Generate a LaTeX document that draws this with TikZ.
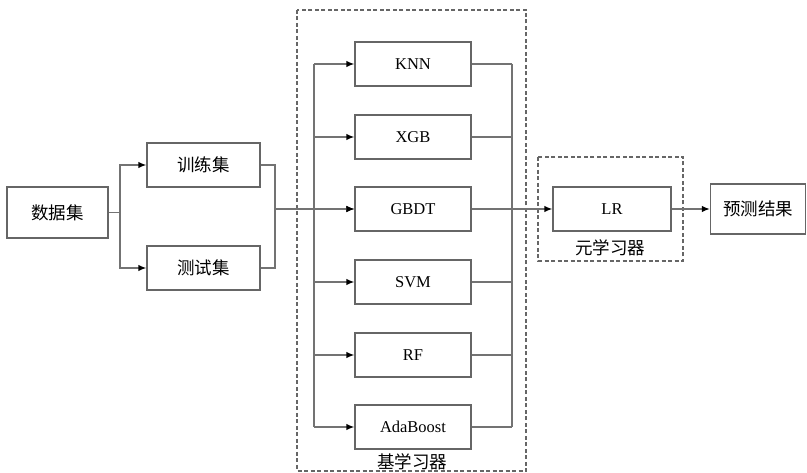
\documentclass[tikz,border=0pt]{standalone}
\usepackage{fontspec}
\setmainfont{Liberation Serif}
\newfontfamily\cjk{Noto Sans CJK SC}
\usetikzlibrary{arrows.meta}
\tikzset{
  box/.style={draw=black!60, line width=1.3pt, fill=white, minimum width=113pt, minimum height=44pt, inner sep=0pt},
  lat/.style={font=\fontsize{16.5}{18}\selectfont},
  zh/.style={font=\cjk\fontsize{17.5}{19}\selectfont},
  conn/.style={draw=black!55, line width=1.4pt},
  arr/.style={conn, -{Latex[length=8pt,width=6.5pt,color=black]}},
  group/.style={draw=black!60, line width=1.2pt, dash pattern=on 4pt off 2.5pt},
}
\begin{document}
\begin{tikzpicture}[x=1pt,y=-1pt]
\useasboundingbox[fill=white] (0,0) rectangle (807,473);
% groups
\draw[group] (297,10) rectangle (526,471);
\draw[group] (538,157) rectangle (683,261);
% nodes
\node[box, zh, minimum width=101pt, minimum height=51pt] (ds) at (57.5,212.5) {数据集};
\node[box, zh] (train) at (203.5,165) {训练集};
\node[box, zh] (test) at (203.5,268) {测试集};
\node[box, lat, minimum width=116pt] (knn) at (413,64) {KNN};
\node[box, lat, minimum width=116pt] (xgb) at (413,137) {XGB};
\node[box, lat, minimum width=116pt] (gbdt) at (413,209) {GBDT};
\node[box, lat, minimum width=116pt] (svm) at (413,282) {SVM};
\node[box, lat, minimum width=116pt] (rf) at (413,355) {RF};
\node[box, lat, minimum width=116pt] (ada) at (413,427) {AdaBoost};
\node[box, lat, minimum width=118pt] (lr) at (612,209) {LR};
\node[box, zh, minimum width=95pt, minimum height=50pt] (pred) at (758,209) {预测结果};
\node[zh, inner sep=0pt] (baselbl) at (412,462) {基学习器};
\node[zh, inner sep=0pt] (metalbl) at (610,248) {元学习器};
% coordinates
\coordinate (j1) at (120,212.5);
\coordinate (j2) at (275,209);
\coordinate (lbus) at (314,0);
\coordinate (rbus) at (512,0);
% connectors
\draw[conn] (ds.east) -- (j1);
\draw[arr] (j1) |- (train.west);
\draw[arr] (j1) |- (test.west);
\draw[conn] (train.east) -| (j2);
\draw[conn] (test.east) -| (j2);
\draw[arr] (j2) -- (gbdt.west);
\draw[conn] (knn.west -| lbus) -- (ada.west -| lbus);
\draw[conn] (knn.east -| rbus) -- (ada.east -| rbus);
\foreach \n in {knn,xgb,gbdt,svm,rf,ada}{
  \draw[arr] (\n.west -| lbus) -- (\n.west);
  \draw[conn] (\n.east) -- (\n.east -| rbus);
}
\draw[arr] (gbdt.east) -- (lr.west);
\draw[arr] (lr.east) -- (pred.west);
\end{tikzpicture}
\end{document}
